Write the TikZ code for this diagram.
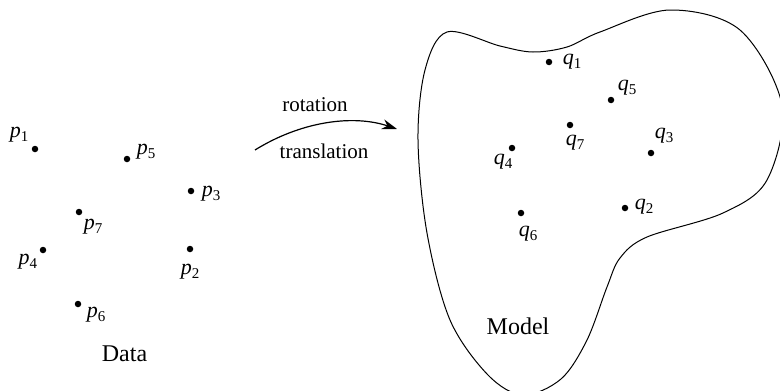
\documentclass[tikz,border=0pt]{standalone}
\usepackage{fontspec}
\setmainfont{Liberation Serif}
\usetikzlibrary{arrows.meta}
\newcommand{\ptlbl}[2]{\textit{#1}\raisebox{-3.5pt}{\fontsize{15}{15}\selectfont #2}}
\tikzset{
  dot/.style={circle,fill=black,inner sep=0pt,minimum size=6.5pt},
  lbl/.style={inner sep=0pt,font=\fontsize{22}{26}\selectfont},
  bigtext/.style={inner sep=0pt,font=\fontsize{24}{28}\selectfont},
  midtext/.style={inner sep=0pt,font=\fontsize{21}{25}\selectfont},
  blob/.style={draw=black,line width=1pt},
  maparrow/.style={draw=black,line width=1.2pt,-{Stealth[length=15pt,width=10pt]}}
}
\begin{document}
\begin{tikzpicture}[x=1pt,y=-1pt]
\useasboundingbox (0,0) rectangle (780,391);
% Data points
\node[dot] (p1) at (35,149) {};
\node[dot] (p5) at (127,159) {};
\node[dot] (p3) at (191,191) {};
\node[dot] (p7) at (79,212) {};
\node[dot] (p4) at (43,250) {};
\node[dot] (p2) at (190,249) {};
\node[dot] (p6) at (78,304) {};
\node[lbl] (lp1) at (19,135) {\ptlbl{p}{1}};
\node[lbl] (lp5) at (146,152) {\ptlbl{p}{5}};
\node[lbl] (lp3) at (211,194) {\ptlbl{p}{3}};
\node[lbl] (lp7) at (93,227) {\ptlbl{p}{7}};
\node[lbl] (lp4) at (28,262) {\ptlbl{p}{4}};
\node[lbl] (lp2) at (190,272) {\ptlbl{p}{2}};
\node[lbl] (lp6) at (96,315) {\ptlbl{p}{6}};
\node[bigtext] (data) at (124.5,353.5) {Data};
% Arrow
\coordinate (as) at (255,150);
\coordinate (ae) at (397,129);
\draw[maparrow] (as) .. controls (300,122) and (352,114) .. (ae);
\node[midtext] (rot) at (315,105) {rotation};
\node[midtext] (trans) at (324,151) {translation};
% Model blob
\begin{scope}
\clip (0,0) rectangle (780,391);
\draw[blob] plot[smooth cycle, tension=0.55] coordinates {
 (447,32) (500,46) (533,52) (567,47) (600,32) (670,10) (740,30) (782,105)
 (767,180) (723,213) (647,237) (620,258) (607,287) (587,340) (561,379)
 (523,395) (488,375) (450,320) (427,233) (418,140) (425,70)};
\end{scope}
\node[dot] (q1) at (549,62) {};
\node[dot] (q5) at (611,100) {};
\node[dot] (q7) at (570,125) {};
\node[dot] (q3) at (651,153) {};
\node[dot] (q4) at (512,148) {};
\node[dot] (q2) at (625,208) {};
\node[dot] (q6) at (521,213) {};
\node[lbl] (lq1) at (572,62) {\ptlbl{q}{1}};
\node[lbl] (lq5) at (627,88) {\ptlbl{q}{5}};
\node[lbl] (lq7) at (575,143) {\ptlbl{q}{7}};
\node[lbl] (lq3) at (664,136) {\ptlbl{q}{3}};
\node[lbl] (lq4) at (503,162) {\ptlbl{q}{4}};
\node[lbl] (lq2) at (644,207) {\ptlbl{q}{2}};
\node[lbl] (lq6) at (528,234) {\ptlbl{q}{6}};
\node[bigtext] (model) at (518,326) {Model};
\end{tikzpicture}
\end{document}
